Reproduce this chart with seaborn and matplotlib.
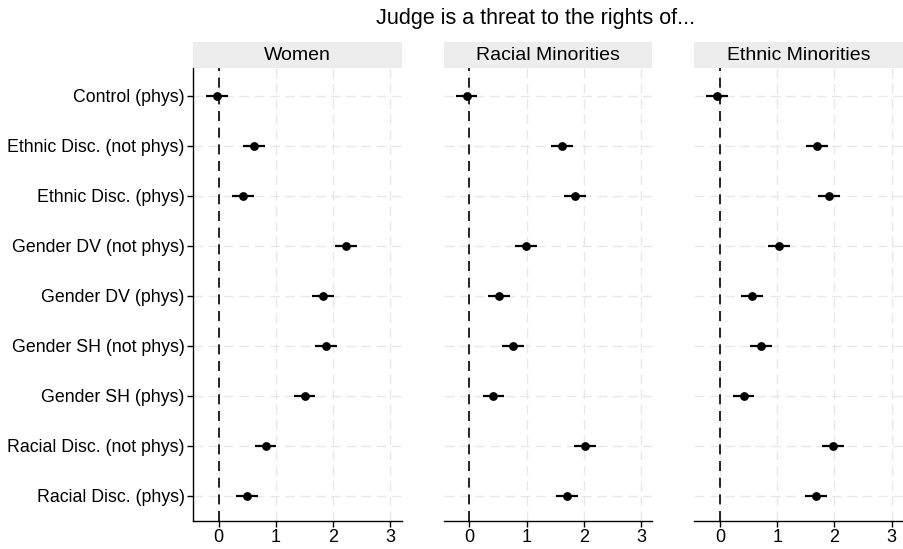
import pandas as pd
import numpy as np
import seaborn as sns
import matplotlib.pyplot as plt
from matplotlib.patches import Rectangle

# treatments, top to bottom
treatments = ["Control (phys)", "Ethnic Disc. (not phys)", "Ethnic Disc. (phys)",
              "Gender DV (not phys)", "Gender DV (phys)", "Gender SH (not phys)",
              "Gender SH (phys)", "Racial Disc. (not phys)", "Racial Disc. (phys)"]
groups = ["Women", "Racial Minorities", "Ethnic Minorities"]

# point estimates and 95% CI
women_est = [-0.03, 0.62, 0.42, 2.22, 1.82, 1.88, 1.50, 0.82, 0.49]
women_lo = [-0.22, 0.43, 0.23, 2.03, 1.63, 1.69, 1.31, 0.63, 0.30]
women_hi = [0.16, 0.81, 0.61, 2.41, 2.01, 2.07, 1.69, 1.01, 0.68]

racial_est = [-0.05, 1.62, 1.85, 0.99, 0.52, 0.76, 0.42, 2.02, 1.70]
racial_lo = [-0.24, 1.43, 1.66, 0.80, 0.33, 0.57, 0.23, 1.83, 1.51]
racial_hi = [0.14, 1.81, 2.04, 1.18, 0.71, 0.95, 0.61, 2.21, 1.89]

ethnic_est = [-0.06, 1.69, 1.90, 1.03, 0.56, 0.71, 0.41, 1.98, 1.68]
ethnic_lo = [-0.25, 1.50, 1.71, 0.84, 0.37, 0.52, 0.22, 1.79, 1.49]
ethnic_hi = [0.13, 1.88, 2.09, 1.22, 0.75, 0.90, 0.60, 2.17, 1.87]

x_ticks = [0, 1, 2, 3]

frames = []
for g, est, lo, hi in zip(groups,
                          [women_est, racial_est, ethnic_est],
                          [women_lo, racial_lo, ethnic_lo],
                          [women_hi, racial_hi, ethnic_hi]):
    frames.append(pd.DataFrame({"group": g, "treatment": treatments,
                                "est": est, "lo": lo, "hi": hi}))
df = pd.concat(frames, ignore_index=True)
df["pos"] = df["treatment"].map({t: i for i, t in enumerate(treatments)})

sns.set_theme(style="white")
plt.rcParams["font.family"] = ["Liberation Sans", "DejaVu Sans"]

fig, axes = plt.subplots(1, 3, figsize=(9.04, 5.49), dpi=100, sharey=True)
fig.subplots_adjust(left=0.2135, right=0.999, bottom=0.051, top=0.876, wspace=0.201)

for ax, g in zip(axes, groups):
    d = df[df["group"] == g]
    # grid
    for xt in x_ticks:
        ax.axvline(xt, color="#e8e8e8", lw=1, ls=(0, (7, 4)), zorder=0)
    for p in range(len(treatments)):
        ax.axhline(p, color="#e8e8e8", lw=1, ls=(0, (7, 4)), zorder=0)
    ax.axvline(0, color="black", lw=1.2, ls=(0, (6, 4)), zorder=1)
    ax.hlines(d["pos"], d["lo"], d["hi"], color="black", lw=1.6, zorder=2)
    sns.scatterplot(data=d, x="est", y="pos", ax=ax, color="black", s=40,
                    edgecolor="black", linewidth=0, zorder=3, legend=False)
    ax.set_xlim(-0.45, 3.2)
    ax.set_ylim(8.5, -0.55)
    ax.set_xticks(x_ticks)
    ax.set_xlabel("")
    ax.set_ylabel("")
    ax.tick_params(axis="x", length=4, width=1, color="black", labelsize=13, pad=2,
                   bottom=True, labelcolor="black")
    for side in ["top", "right", "left"]:
        ax.spines[side].set_visible(False)
    ax.spines["bottom"].set_color("black")
    ax.spines["bottom"].set_linewidth(1)
    # facet strip
    strip_h = 26 / 452
    ax.add_patch(Rectangle((0, 1), 1, strip_h, transform=ax.transAxes,
                           facecolor="#ededed", edgecolor="none", clip_on=False))
    ax.text(0.5, 1 + strip_h / 2, g, transform=ax.transAxes, ha="center",
            va="center", fontsize=14, color="black")

axes[0].spines["left"].set_visible(True)
axes[0].spines["left"].set_color("black")
axes[0].spines["left"].set_linewidth(1)
axes[0].set_yticks(range(len(treatments)))
axes[0].set_yticklabels(treatments)
axes[0].tick_params(axis="y", length=4, width=1, color="black", labelsize=12.8, pad=2,
                    left=True, labelcolor="black")
for ax in axes[1:]:
    ax.tick_params(axis="y", left=False)

fig.text(0.592, 0.966, "Judge is a threat to the rights of...", ha="center",
         va="center", fontsize=15.5, color="black")

fig.savefig("out.png", dpi=100)
